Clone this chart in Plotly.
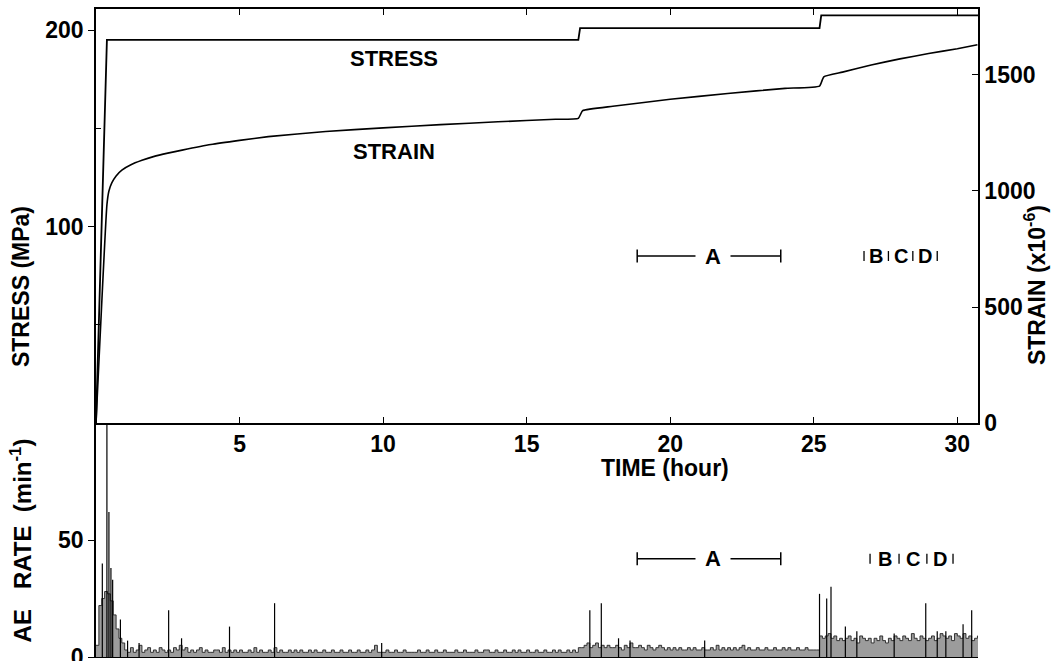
import plotly.graph_objects as go

# ---------------- data ----------------
time_ticks = [5, 10, 15, 20, 25, 30]

stress_time = [0, 0.38, 16.8, 16.86, 25.2, 25.26, 30.72]
stress_mpa = [0, 195, 195, 201, 201, 207.5, 207.5]

strain_time = [0, 0.38, 0.45, 0.55, 0.7, 0.9, 1.2, 1.6, 2.0, 2.5, 3, 4, 5, 6, 8, 10, 12, 14, 16,
               16.8, 16.95, 18, 20, 22, 24, 25.2, 25.35, 26, 27, 28, 29, 30, 30.7]
strain_ue = [0, 940, 1000, 1035, 1065, 1090, 1112, 1132, 1148, 1163, 1176, 1200, 1218, 1234, 1256,
             1272, 1286, 1298, 1309, 1313, 1346, 1365, 1395, 1420, 1442, 1452, 1492, 1512, 1543,
             1569, 1592, 1613, 1630]

ae_step_h = 0.1
ae_rate = [
    5, 22, 25, 28, 27, 24, 18, 12, 8, 6,      # 0 h
    3, 2, 4, 2, 3, 5, 2, 3, 4, 2,             # 1
    3, 2, 4, 3, 2, 3, 2, 4, 3, 5,             # 2
    3, 4, 2, 3, 2, 3, 4, 2, 3, 2,             # 3
    2, 3, 3, 2, 4, 2, 3, 2, 3, 2,             # 4
    3, 2, 2, 3, 2, 4, 2, 3, 2, 2,             # 5
    3, 2, 4, 2, 3, 2, 2, 3, 2, 3,             # 6
    2, 3, 2, 2, 3, 2, 3, 2, 2, 3,             # 7
    2, 2, 3, 2, 2, 3, 2, 2, 3, 2,             # 8
    2, 3, 2, 2, 3, 2, 3, 5, 2, 2,             # 9
    2, 3, 2, 2, 3, 2, 2, 3, 2, 2,             # 10
    2, 2, 3, 2, 2, 3, 2, 2, 3, 2,             # 11
    2, 3, 2, 2, 2, 3, 2, 2, 3, 2,             # 12
    2, 2, 3, 2, 2, 3, 3, 2, 2, 3,             # 13
    2, 2, 3, 2, 2, 3, 2, 3, 2, 2,             # 14
    3, 2, 2, 3, 2, 2, 3, 2, 2, 3,             # 15
    2, 3, 2, 2, 3, 2, 3, 2, 4, 4,             # 16
    5, 6, 4, 5, 6, 4, 5, 4, 5, 4,             # 17
    4, 5, 4, 3, 5, 4, 6, 4, 4, 5,             # 18
    4, 3, 5, 4, 3, 4, 5, 4, 3, 4,             # 19
    3, 4, 3, 4, 3, 3, 4, 3, 4, 3,             # 20
    3, 4, 3, 3, 4, 3, 5, 3, 4, 3,             # 21
    4, 3, 4, 3, 4, 5, 3, 4, 3, 3,             # 22
    4, 3, 3, 4, 3, 3, 4, 3, 3, 4,             # 23
    3, 4, 3, 3, 4, 3, 3, 4, 3, 3,             # 24
    3, 3, 9, 8, 9, 10, 8, 9, 7, 8,            # 25
    7, 8, 9, 7, 8, 6, 9, 8, 7, 8,             # 26
    6, 8, 7, 9, 7, 6, 8, 7, 9, 8,             # 27
    7, 9, 8, 7, 10, 8, 7, 9, 8, 7,            # 28
    8, 9, 7, 8, 10, 9, 8, 9, 7, 10,           # 29
    9, 8, 10, 8, 9, 7, 8, 9,                  # 30
]

spike_time = [0.22, 0.38, 0.45, 0.52, 0.58, 0.85, 1.1, 1.5, 2.53, 2.98, 4.65, 6.22, 9.95,
              17.2, 17.6, 18.2, 18.6, 21.2, 25.2, 25.45, 25.6, 26.1, 26.5, 27.8, 28.9,
              29.3, 29.6, 30.2, 30.5]
spike_rate = [40, 100, 62, 38, 33, 16, 7, 6, 20, 8, 13, 23, 6,
              20, 23, 8, 7, 7, 27, 25, 30, 13, 11, 10, 23,
              11, 11, 14, 20]

period_a = [18.85, 23.85]
a_label_time = 21.5
bcd_upper_edges = [26.75, 27.6, 28.45, 29.3]
bcd_lower_edges = [26.96, 27.97, 28.94, 29.85]
bcd_labels = ["B", "C", "D"]
mark_stress_level = 85
mark_ae_level = 42

# ---------------- figure ----------------
FONT = "Liberation Sans"
fig = go.Figure()

fig.add_trace(go.Scatter(x=stress_time, y=stress_mpa, mode="lines",
                         line=dict(color="black", width=1.8), xaxis="x", yaxis="y",
                         showlegend=False))
fig.add_trace(go.Scatter(x=strain_time, y=strain_ue, mode="lines",
                         line=dict(color="black", width=1.6, shape="spline", smoothing=0.4),
                         xaxis="x", yaxis="y2", showlegend=False))

ae_t = [round(i * ae_step_h, 2) for i in range(len(ae_rate))] + [round(len(ae_rate) * ae_step_h, 2)]
ae_v = ae_rate + [ae_rate[-1]]
fig.add_trace(go.Scatter(x=ae_t, y=ae_v, mode="lines", line=dict(color="#222", width=0.9, shape="hv"),
                         fill="tozeroy", fillcolor="#9c9c9c", xaxis="x2", yaxis="y3",
                         showlegend=False))

sx, sy = [], []
for t, v in zip(spike_time, spike_rate):
    sx += [t, t, None]
    sy += [0, v, None]
fig.add_trace(go.Scatter(x=sx, y=sy, mode="lines", line=dict(color="black", width=1.2),
                         xaxis="x2", yaxis="y3", showlegend=False))

shapes = []
annotations = []


def bracket(xref, yref, yv, x0, x1, caph):
    shapes.append(dict(type="line", xref=xref, yref=yref, x0=x0, x1=x1, y0=yv, y1=yv,
                       line=dict(color="black", width=1.5)))
    for xe in (x0, x1):
        shapes.append(dict(type="line", xref=xref, yref=yref, x0=xe, x1=xe,
                           ysizemode="pixel", yanchor=yv, y0=-caph, y1=caph,
                           line=dict(color="black", width=1.5)))


def bcd(xref, yref, yv, edges):
    for xe in edges:
        shapes.append(dict(type="line", xref=xref, yref=yref, x0=xe, x1=xe,
                           ysizemode="pixel", yanchor=yv, y0=-5, y1=5,
                           line=dict(color="black", width=1.3)))
    for i, lab in enumerate(bcd_labels):
        annotations.append(dict(xref=xref, yref=yref, x=(edges[i] + edges[i + 1]) / 2, y=yv,
                                text=lab, showarrow=False,
                                font=dict(family=FONT, size=20, color="black", weight="bold")))


bracket("x", "y", mark_stress_level, period_a[0], period_a[1], 6.5)
bracket("x2", "y3", mark_ae_level, period_a[0], period_a[1], 6.5)
for xref, yref, yv in (("x", "y", mark_stress_level), ("x2", "y3", mark_ae_level)):
    annotations.append(dict(xref=xref, yref=yref, x=a_label_time, y=yv, text="A", showarrow=False,
                            bgcolor="white", borderpad=9,
                            font=dict(family=FONT, size=22, color="black", weight="bold")))
bcd("x", "y", mark_stress_level, bcd_upper_edges)
bcd("x2", "y3", mark_ae_level, bcd_lower_edges)

lab_font = dict(family=FONT, size=22, color="black", weight="bold")
annotations += [
    dict(xref="x", yref="y", x=10.38, y=185.7, text="STRESS", showarrow=False, font=lab_font),
    dict(xref="x", yref="y", x=10.38, y=138, text="STRAIN", showarrow=False, font=lab_font),
]
title_font = dict(family=FONT, size=23, color="black", weight="bold")
annotations += [
    dict(xref="paper", yref="paper", x=-0.085, y=0.571, text="STRESS (MPa)", textangle=-90,
         showarrow=False, font=title_font, xanchor="center", yanchor="middle"),
    dict(xref="paper", yref="paper", x=1.0646, y=0.574, text="STRAIN (x10<sup>-6</sup>)",
         textangle=-90, showarrow=False, font=title_font, xanchor="center", yanchor="middle"),
    dict(xref="paper", yref="paper", x=0.645, y=0.2917, text="TIME (hour)", showarrow=False,
         font=title_font, xanchor="center", yanchor="middle"),
    dict(xref="paper", yref="paper", x=-0.085, y=0.18,
         text="AE&nbsp;&nbsp;&nbsp;RATE&nbsp;&nbsp;(min<sup>-1</sup>)",
         textangle=-90, showarrow=False, font=dict(family=FONT, size=24, color="black", weight="bold"),
         xanchor="center", yanchor="middle"),
]

tick_font = dict(family=FONT, size=23, color="black", weight="bold")
split = 0.361
xr = [0, 30.72]
fig.update_layout(
    width=1063, height=661,
    margin=dict(l=96, r=85, t=9, b=4, autoexpand=False),
    paper_bgcolor="white", plot_bgcolor="white",
    showlegend=False,
    xaxis=dict(domain=[0, 1], anchor="y", range=xr, showline=True, linecolor="black", linewidth=1.5,
               mirror="ticks", ticks="inside", ticklen=6, tickwidth=1.2, tickcolor="black",
               tickvals=time_ticks, tickfont=tick_font, showgrid=False, zeroline=False,
               automargin=False),
    yaxis=dict(domain=[split, 1], anchor="x", range=[0, 210.7], showline=True, linecolor="black",
               linewidth=1.5, ticks="outside", ticklen=6, tickwidth=1.2, tickcolor="black",
               tickvals=[100, 200], tickfont=tick_font, showgrid=False, zeroline=False,
               automargin=False,
               minor=dict(tickvals=[50, 150], ticks="inside", ticklen=5, tickcolor="black")),
    yaxis2=dict(overlaying="y", side="right", anchor="x", range=[0, 1784], showline=True,
                linecolor="black", linewidth=1.5, ticks="inside", ticklen=6, tickwidth=1.2,
                tickcolor="black", tickvals=[0, 500, 1000, 1500], tickfont=tick_font,
                showgrid=False, zeroline=False, automargin=False),
    xaxis2=dict(domain=[0, 1], anchor="y3", range=xr, showline=True, linecolor="black", linewidth=1,
                showticklabels=False, ticks="", showgrid=False, zeroline=False, automargin=False),
    yaxis3=dict(domain=[0, split], anchor="x2", range=[0, 100], showline=True, linecolor="black",
                linewidth=1.5, ticks="outside", ticklen=6, tickwidth=1.2, tickcolor="black",
                tickvals=[0, 50], tickfont=tick_font, showgrid=False, zeroline=False,
                automargin=False, ticklabeloverflow="allow"),
    shapes=shapes,
    annotations=annotations,
)

fig.write_html("out.html")
